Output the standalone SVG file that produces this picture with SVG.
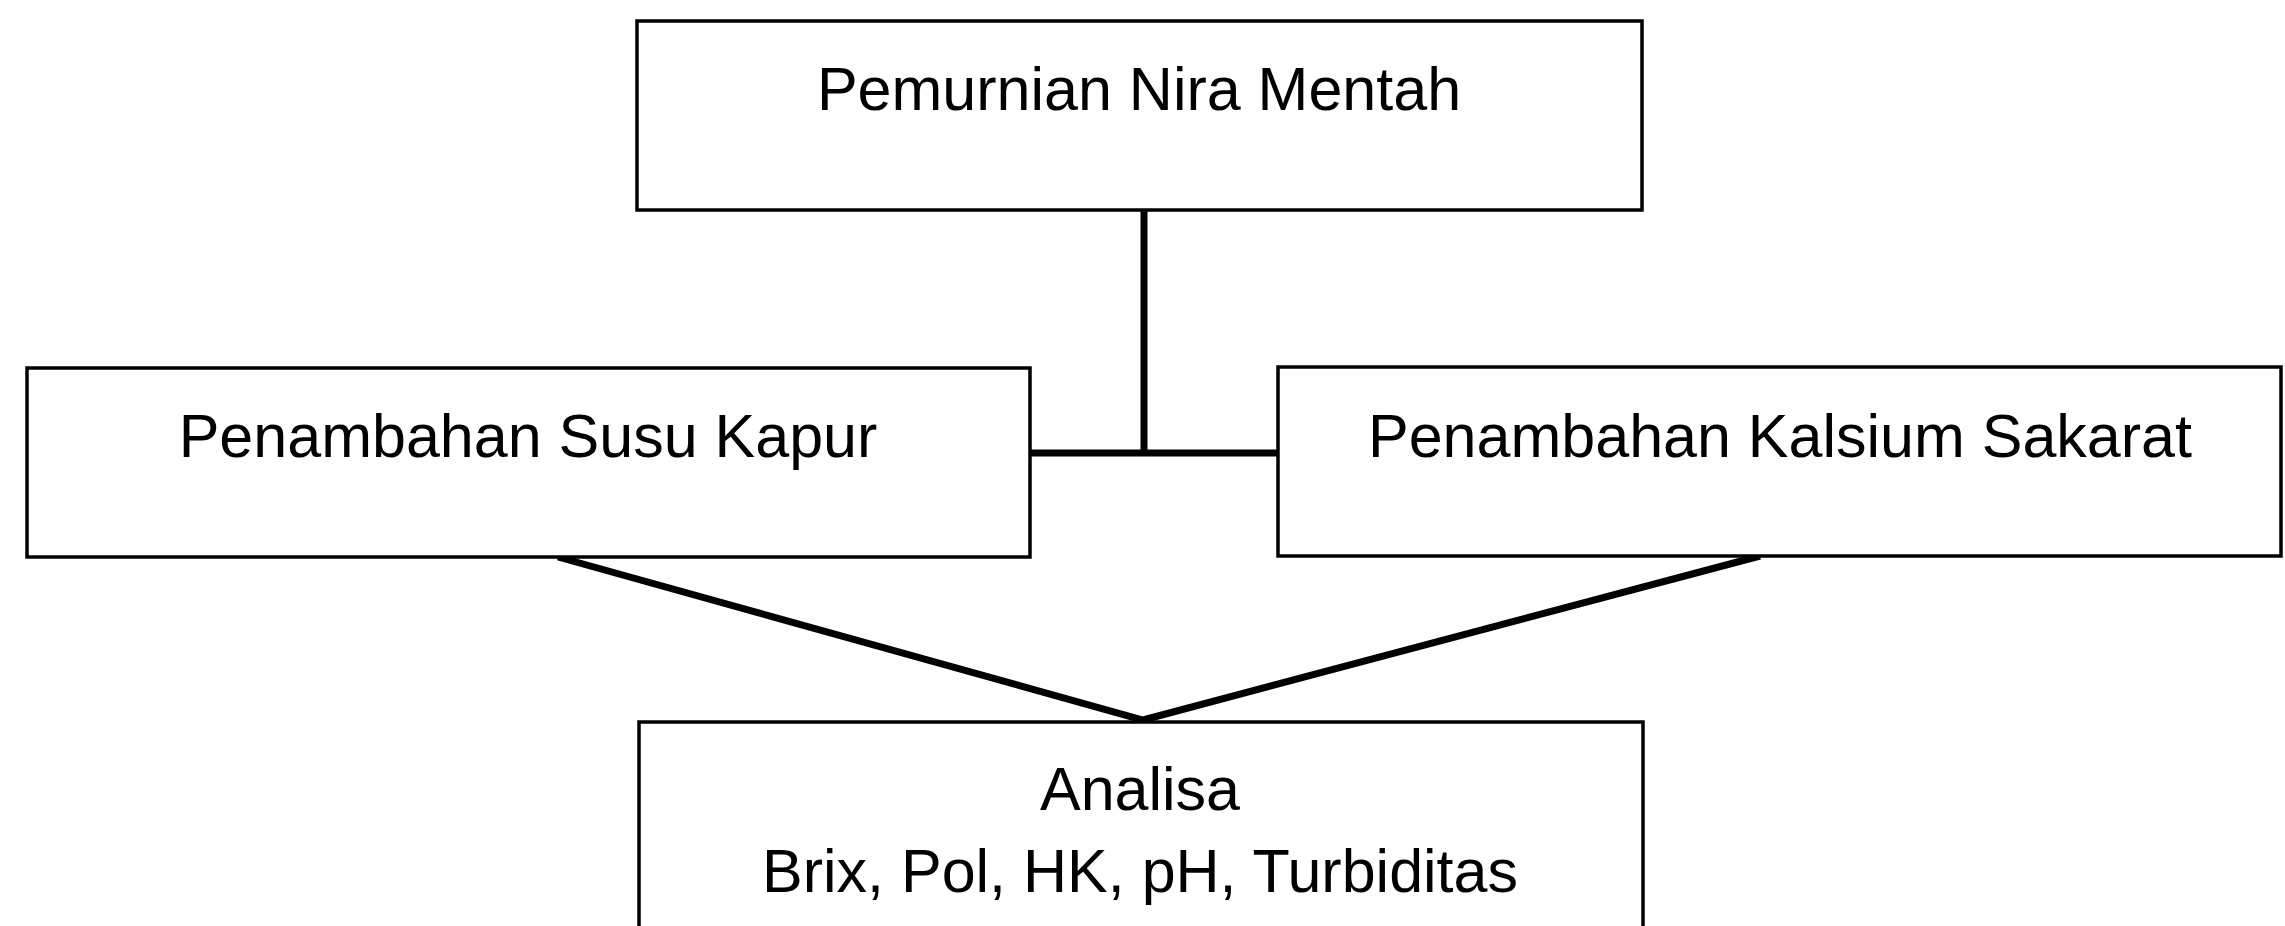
<svg xmlns="http://www.w3.org/2000/svg" width="2285" height="926" viewBox="0 0 2285 926">
<style>
.box{fill:#ffffff;stroke:#000000;stroke-width:3.5}
.lbl{font-family:"Liberation Sans",Arial,sans-serif;font-size:61px;fill:#000000;text-anchor:middle}
.con{stroke:#000000;stroke-width:7;fill:none;stroke-linecap:butt}
</style>
<rect width="2285" height="926" fill="#ffffff"/>
<g id="connectors">
<line class="con" x1="1144" y1="210" x2="1144" y2="453"/>
<line class="con" x1="1030" y1="453" x2="1278" y2="453"/>
<polyline class="con" points="558,557 1143,720 1760,556" stroke-linejoin="miter"/>
</g>
<g id="node-top">
<rect class="box" x="637" y="21" width="1005" height="189"/>
<text class="lbl" x="1139" y="110">Pemurnian Nira Mentah</text>
</g>
<g id="node-left">
<rect class="box" x="27" y="368" width="1003" height="189"/>
<text class="lbl" x="528" y="457">Penambahan Susu Kapur</text>
</g>
<g id="node-right">
<rect class="box" x="1278" y="367" width="1003" height="189"/>
<text class="lbl" x="1780" y="457">Penambahan Kalsium Sakarat</text>
</g>
<g id="node-bottom">
<rect class="box" x="639" y="722" width="1004" height="220"/>
<text class="lbl" x="1140" y="810">Analisa</text>
<text class="lbl" x="1140" y="892">Brix, Pol, HK, pH, Turbiditas</text>
</g>
</svg>
